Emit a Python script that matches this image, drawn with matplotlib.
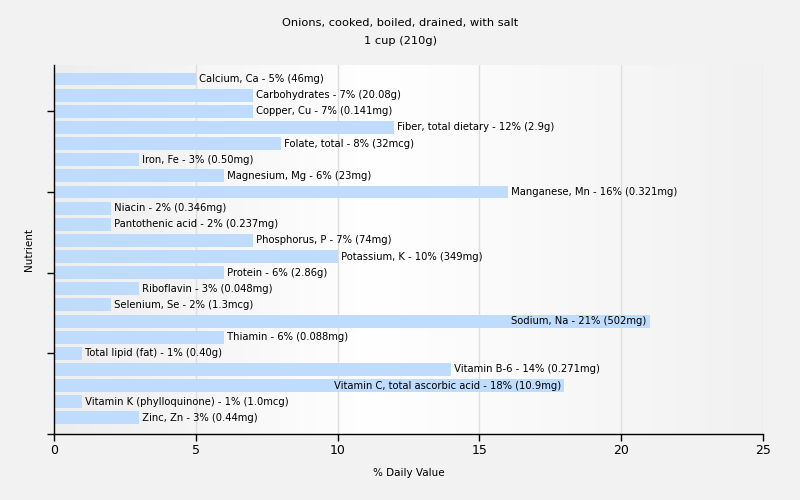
import matplotlib
matplotlib.use("Agg")
import matplotlib.pyplot as plt
import numpy as np
from matplotlib.colors import LinearSegmentedColormap

nutrients = ["Calcium, Ca", "Carbohydrates", "Copper, Cu", "Fiber, total dietary",
             "Folate, total", "Iron, Fe", "Magnesium, Mg", "Manganese, Mn", "Niacin",
             "Pantothenic acid", "Phosphorus, P", "Potassium, K", "Protein", "Riboflavin",
             "Selenium, Se", "Sodium, Na", "Thiamin", "Total lipid (fat)", "Vitamin B-6",
             "Vitamin C, total ascorbic acid", "Vitamin K (phylloquinone)", "Zinc, Zn"]
daily_values = [5, 7, 7, 12, 8, 3, 6, 16, 2, 2, 7, 10, 6, 3, 2, 21, 6, 1, 14, 18, 1, 3]
amounts = ["46mg", "20.08g", "0.141mg", "2.9g", "32mcg", "0.50mg", "23mg", "0.321mg",
           "0.346mg", "0.237mg", "74mg", "349mg", "2.86g", "0.048mg", "1.3mcg", "502mg",
           "0.088mg", "0.40g", "0.271mg", "10.9mg", "1.0mcg", "0.44mg"]
x_ticks = [0, 5, 10, 15, 20, 25]

FONT = "DejaVu Sans"
plt.rcParams['font.family'] = [FONT]

fig = plt.figure(figsize=(8, 5), dpi=100, facecolor="#f2f2f2")
ax = fig.add_axes([0.0675, 0.132, 0.88625, 0.738])
ax.set_facecolor("#f2f2f2")

xmax = 25
ylim = (22, -0.87)
# gradient background
cmap = LinearSegmentedColormap.from_list("bg", [(0, "#eeeeee"), (0.45, "#ffffff"), (1, "#f1f1f1")])
grad = np.linspace(0, 1, 256).reshape(1, -1)
ax.imshow(grad, aspect="auto", cmap=cmap, extent=[0, xmax, ylim[0], ylim[1]], zorder=0)

for t in x_ticks[1:]:
    ax.axvline(t, color="#dedede", lw=1, zorder=1)

y = np.arange(len(nutrients))
ax.barh(y, daily_values, height=0.8, color="#bfdbfe", zorder=2)

fs = 7.2
renderer = fig.canvas.get_renderer()
for i, (n, v, a) in enumerate(zip(nutrients, daily_values, amounts)):
    label = f"{n} - {v}% ({a})"
    t = ax.text(v, i, " " + label, va="center", ha="left", fontsize=fs, color="#000000", zorder=3)
    bb = t.get_window_extent(renderer=renderer)
    axbb = ax.get_window_extent(renderer=renderer)
    if bb.x1 > axbb.x1:
        t.set_text(label + " ")
        t.set_ha("right")

ax.set_xlim(0, xmax)
ax.set_ylim(*ylim)
ax.set_xticks(x_ticks)
ax.set_xticklabels([str(t) for t in x_ticks], fontsize=9)
ax.set_yticks([2, 7, 12, 17, 22])
ax.set_yticklabels([])
ax.tick_params(axis="both", direction="out", length=5, width=1, color="black")
ax.tick_params(axis="x", pad=2)
for s in ["top", "right"]:
    ax.spines[s].set_visible(False)
for s in ["left", "bottom"]:
    ax.spines[s].set_color("black")
    ax.spines[s].set_linewidth(1)

ax.set_xlabel("% Daily Value", fontsize=7.5, labelpad=8)
ax.set_ylabel("Nutrient", fontsize=7.5, labelpad=6)
fig.text(0.5, 0.954, "Onions, cooked, boiled, drained, with salt", ha="center", va="center", fontsize=8.2)
fig.text(0.5, 0.918, "1 cup (210g)", ha="center", va="center", fontsize=8.2)

fig.savefig("out.png", dpi=100, facecolor=fig.get_facecolor())
